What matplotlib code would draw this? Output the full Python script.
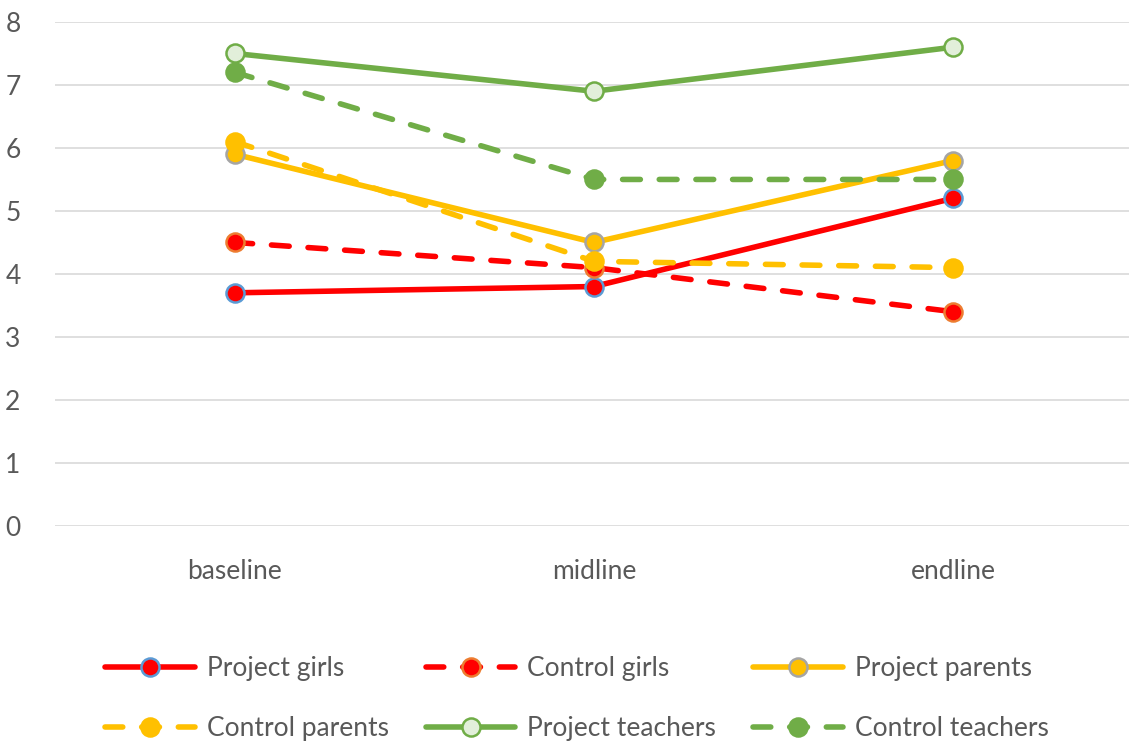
import matplotlib
matplotlib.use("Agg")
import matplotlib.pyplot as plt

plt.rcParams['font.family'] = ['Lato', 'DejaVu Sans']

phases = ["baseline", "midline", "endline"]
project_girls = [3.7, 3.8, 5.2]
control_girls = [4.5, 4.1, 3.4]
project_parents = [5.9, 4.5, 5.8]
control_parents = [6.1, 4.2, 4.1]
project_teachers = [7.5, 6.9, 7.6]
control_teachers = [7.2, 5.5, 5.5]

RED = "#FF0000"
YELLOW = "#FFC000"
GREEN = "#70AD47"
TXT = "#595959"

fig = plt.figure(figsize=(11.29, 7.48), dpi=100)
ax = fig.add_axes([0.049, 0.297, 0.951, 0.6736])

x = list(range(len(phases)))
common = dict(linewidth=4.0, markersize=13, markeredgewidth=1.8,
              solid_capstyle='round', dash_capstyle='round', clip_on=False)
dash = (3.2, 3.4)

series = [
    ("Project girls", project_girls, RED, '-', RED, "#5B9BD5"),
    ("Control girls", control_girls, RED, '--', RED, "#ED7D31"),
    ("Project parents", project_parents, YELLOW, '-', YELLOW, "#A5A5A5"),
    ("Control parents", control_parents, YELLOW, '--', YELLOW, YELLOW),
    ("Project teachers", project_teachers, GREEN, '-', "#E2EFDA", GREEN),
    ("Control teachers", control_teachers, GREEN, '--', GREEN, GREEN),
]

handles = {}
for label, vals, col, ls, mfc, mec in series:
    ln, = ax.plot(x, vals, color=col, linestyle=ls, marker='o',
                  markerfacecolor=mfc, markeredgecolor=mec, label=label, **common)
    if ls == '--':
        ln.set_dashes(dash)
    handles[label] = ln

ax.set_xlim(-0.5, 2.49)
ax.set_ylim(0, 8)
ax.set_yticks(range(0, 9))
ax.set_xticks(x)
ax.set_xticklabels(phases)
ax.grid(axis='y', color="#D9D9D9", linewidth=1.2)
ax.set_axisbelow(True)
for s in ax.spines.values():
    s.set_visible(False)
ax.tick_params(axis='both', length=0, labelsize=19, labelcolor=TXT)
ax.tick_params(axis='y', pad=25)
ax.tick_params(axis='x', pad=24)

# legend filled column by column, so order items to read across rows
order = ["Project girls", "Control parents", "Control girls",
         "Project teachers", "Project parents", "Control teachers"]
fig.legend([handles[k] for k in order], order, ncol=3, frameon=False,
           loc='center', bbox_to_anchor=(0.511, 0.066), fontsize=19,
           labelcolor=TXT, handlelength=3.4, handletextpad=0.45,
           columnspacing=1.4, labelspacing=1.3)

fig.savefig("out.png", dpi=100)
